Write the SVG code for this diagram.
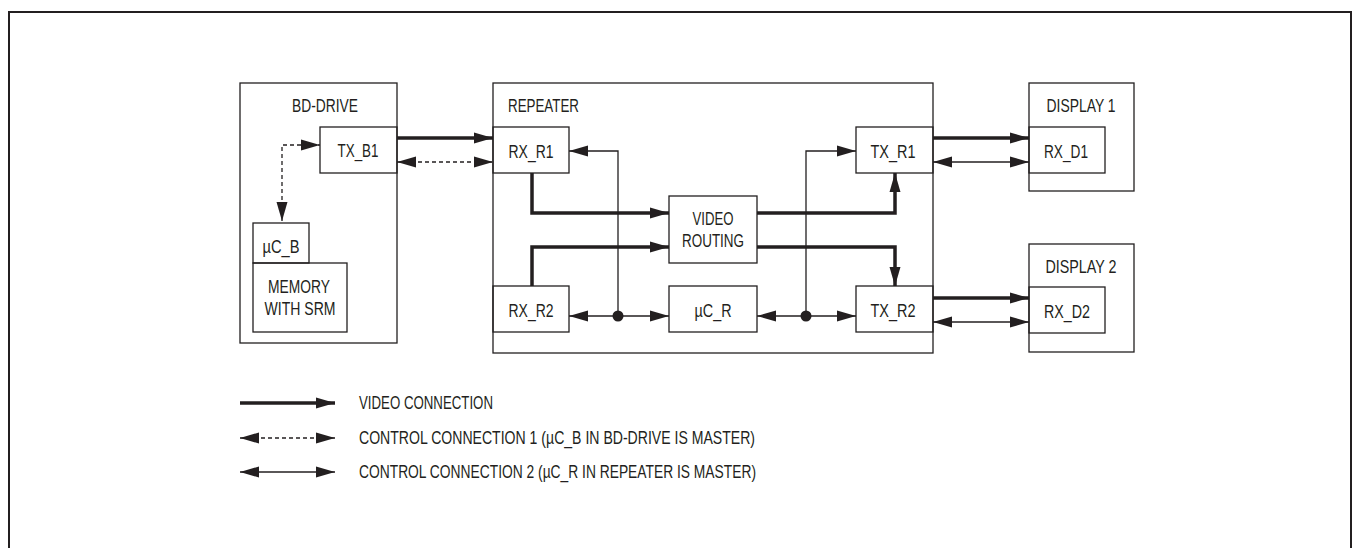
<svg xmlns="http://www.w3.org/2000/svg" width="1353" height="548" viewBox="0 0 1353 548">
<style>
.bx{fill:none;stroke:#231f20;stroke-width:1.3}
.t{font-family:"Liberation Sans",Arial,sans-serif;font-size:17.5px;fill:#231f20}
.m{text-anchor:middle}
.thick{fill:none;stroke:#231f20;stroke-width:3.5}
.thin{fill:none;stroke:#231f20;stroke-width:1.3}
.dash{fill:none;stroke:#231f20;stroke-width:1.3;stroke-dasharray:4 3}
</style>
<defs>
<marker id="ah" markerUnits="userSpaceOnUse" markerWidth="20" markerHeight="12" refX="19" refY="6" orient="auto-start-reverse" viewBox="0 0 20 12">
<path d="M0,0.5 L19,6 L0,11.5 z" fill="#231f20"/>
</marker>
</defs>
<rect x="9" y="12" width="1342" height="560" fill="none" stroke="#231f20" stroke-width="2"/>

<g id="bd-drive">
<rect class="bx" x="240" y="83" width="157" height="260"/>
<text class="t m" x="325" y="112" textLength="66" lengthAdjust="spacingAndGlyphs">BD-DRIVE</text>
</g>
<g id="tx-b1">
<rect class="bx" x="320" y="127" width="77" height="46"/>
<text class="t m" x="358" y="157" textLength="41" lengthAdjust="spacingAndGlyphs">TX_B1</text>
</g>
<g id="uc-b">
<rect class="bx" x="253" y="223" width="56" height="40"/>
<text class="t m" x="281" y="253" textLength="37" lengthAdjust="spacingAndGlyphs">µC_B</text>
</g>
<g id="memory">
<rect class="bx" x="253" y="263" width="94" height="69"/>
<text class="t m" x="299" y="293" textLength="62" lengthAdjust="spacingAndGlyphs">MEMORY</text>
<text class="t m" x="300" y="315" textLength="71" lengthAdjust="spacingAndGlyphs">WITH SRM</text>
</g>

<g id="repeater">
<rect class="bx" x="493" y="83" width="440" height="270"/>
<text class="t" x="508" y="112" textLength="71" lengthAdjust="spacingAndGlyphs">REPEATER</text>
</g>
<g id="rx-r1">
<rect class="bx" x="493" y="127" width="76" height="46"/>
<text class="t m" x="531" y="157.5" textLength="45" lengthAdjust="spacingAndGlyphs">RX_R1</text>
</g>
<g id="rx-r2">
<rect class="bx" x="493" y="286" width="76" height="46"/>
<text class="t m" x="531" y="316.5" textLength="45" lengthAdjust="spacingAndGlyphs">RX_R2</text>
</g>
<g id="video-routing">
<rect class="bx" x="669" y="196" width="88" height="67"/>
<text class="t m" x="713" y="225" textLength="41" lengthAdjust="spacingAndGlyphs">VIDEO</text>
<text class="t m" x="713" y="247" textLength="62" lengthAdjust="spacingAndGlyphs">ROUTING</text>
</g>
<g id="uc-r">
<rect class="bx" x="669" y="286" width="88" height="46"/>
<text class="t m" x="713" y="316.5" textLength="37" lengthAdjust="spacingAndGlyphs">µC_R</text>
</g>
<g id="tx-r1">
<rect class="bx" x="856" y="127" width="77" height="46"/>
<text class="t m" x="893" y="157.5" textLength="45" lengthAdjust="spacingAndGlyphs">TX_R1</text>
</g>
<g id="tx-r2">
<rect class="bx" x="856" y="286" width="77" height="46"/>
<text class="t m" x="893" y="316.5" textLength="45" lengthAdjust="spacingAndGlyphs">TX_R2</text>
</g>

<g id="display1">
<rect class="bx" x="1029" y="83" width="105" height="108"/>
<text class="t m" x="1081" y="112" textLength="69" lengthAdjust="spacingAndGlyphs">DISPLAY 1</text>
</g>
<g id="rx-d1">
<rect class="bx" x="1029" y="127" width="76" height="46"/>
<text class="t m" x="1066" y="157.5" textLength="44" lengthAdjust="spacingAndGlyphs">RX_D1</text>
</g>
<g id="display2">
<rect class="bx" x="1029" y="244" width="105" height="108"/>
<text class="t m" x="1081" y="273" textLength="71" lengthAdjust="spacingAndGlyphs">DISPLAY 2</text>
</g>
<g id="rx-d2">
<rect class="bx" x="1029" y="287" width="76" height="46"/>
<text class="t m" x="1067" y="317.5" textLength="46" lengthAdjust="spacingAndGlyphs">RX_D2</text>
</g>

<g id="connectors">
<path class="dash" d="M282,221 V145 H320" marker-start="url(#ah)" marker-end="url(#ah)"/>
<path class="thick" d="M397,138 H493" marker-end="url(#ah)"/>
<path class="dash" d="M397,162 H493" marker-start="url(#ah)" marker-end="url(#ah)"/>
<path class="thick" d="M532,173 V213 H669" marker-end="url(#ah)"/>
<path class="thick" d="M532,286 V247 H669" marker-end="url(#ah)"/>
<path class="thick" d="M757,213 H895 V173" marker-end="url(#ah)"/>
<path class="thick" d="M757,247 H895 V286" marker-end="url(#ah)"/>
<path class="thin" d="M618,316 V151 H569" marker-end="url(#ah)"/>
<path class="thin" d="M569,316 H669" marker-start="url(#ah)" marker-end="url(#ah)"/>
<circle cx="618" cy="316" r="5.5" fill="#231f20"/>
<path class="thin" d="M806,316 V151 H856" marker-end="url(#ah)"/>
<path class="thin" d="M757,316 H856" marker-start="url(#ah)" marker-end="url(#ah)"/>
<circle cx="806" cy="316" r="5.5" fill="#231f20"/>
<path class="thick" d="M933,138 H1029" marker-end="url(#ah)"/>
<path class="thin" d="M933,162 H1029" marker-start="url(#ah)" marker-end="url(#ah)"/>
<path class="thick" d="M933,298 H1029" marker-end="url(#ah)"/>
<path class="thin" d="M933,322 H1029" marker-start="url(#ah)" marker-end="url(#ah)"/>
</g>

<g id="legend">
<path class="thick" d="M240,403 H335" marker-end="url(#ah)"/>
<text class="t" x="359" y="408.5" textLength="134" lengthAdjust="spacingAndGlyphs">VIDEO CONNECTION</text>
<path class="dash" d="M240,438 H335" marker-start="url(#ah)" marker-end="url(#ah)"/>
<text class="t" x="359" y="443.5" textLength="396" lengthAdjust="spacingAndGlyphs">CONTROL CONNECTION 1 (µC_B IN BD-DRIVE IS MASTER)</text>
<path class="thin" d="M240,472 H335" marker-start="url(#ah)" marker-end="url(#ah)"/>
<text class="t" x="359" y="477.5" textLength="397" lengthAdjust="spacingAndGlyphs">CONTROL CONNECTION 2 (µC_R IN REPEATER IS MASTER)</text>
</g>
</svg>
